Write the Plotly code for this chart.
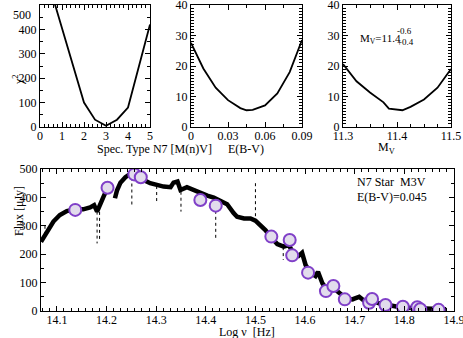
import plotly.graph_objects as go

# chi^2 vs spectral type
spt = [0, 1, 2, 2.5, 3, 3.5, 4, 5]
chi_spt = [710, 405, 100, 30, 5, 30, 80, 420]

# chi^2 vs E(B-V)
ebv = [0, 0.01, 0.02, 0.03, 0.04, 0.045, 0.05, 0.06, 0.07, 0.08, 0.09]
chi_ebv = [27.6, 19.2, 12.9, 8.8, 6.2, 5.5, 5.6, 7.1, 11, 18, 28.5]

# chi^2 vs M_V
mv = [11.3, 11.325, 11.35, 11.375, 11.385, 11.41, 11.425, 11.45, 11.475, 11.5]
chi_mv = [20.6, 15, 11.3, 8.1, 6, 5.5, 6.6, 9, 12.9, 19]

# spectrum (log nu, flux in uJy), None marks the gap
spec_x = [14.068, 14.080, 14.093, 14.106, 14.120, 14.137, 14.153, 14.167, 14.175, 14.181,
          14.187, 14.194, 14.201, 14.207, None,
          14.217, 14.221, 14.228, 14.238, 14.248, 14.258, 14.265, 14.275, 14.288, 14.301,
          14.315, 14.329, 14.335, 14.343, 14.349, 14.362, 14.376, 14.389, 14.403, 14.416,
          14.430, 14.443, 14.456, 14.463, 14.477, 14.490, 14.500, 14.510, 14.520, 14.532,
          14.544, 14.557, 14.567, 14.577, 14.587, 14.594, 14.601, 14.611, 14.621, 14.626,
          14.635, 14.645, 14.655, 14.668, 14.682, 14.695, 14.709, 14.719, 14.736, 14.749,
          14.766, 14.786, 14.813, 14.840, 14.867, 14.884]
spec_y = [244, 279, 315, 338, 352, 358, 358, 365, 373, 350,
          379, 403, 429, 444, None,
          397, 424, 452, 471, 483, 485, 478, 461, 450, 444,
          438, 436, 452, 456, 426, 436, 426, 414, 406, 399,
          389, 376, 345, 332, 326, 326, 318, 303, 285, 259,
          236, 227, 232, 203, 194, 205, 162, 135, 123, 138,
          97, 74, 84, 65, 45, 41, 50, 36, 36, 27,
          21, 15, 11, 8, 6, 6]

# absorption dips / spikes in the spectrum
dip_x = [14.076, 14.181, 14.186, 14.251, 14.301, 14.350, 14.420, 14.500, 14.556, 14.698]
dip_top = [300, 350, 370, 470, 440, 420, 395, 450, 225, 45]
dip_bot = [262, 238, 250, 375, 385, 350, 256, 330, 180, 28]

# photometry
phot_x = [14.137, 14.202, 14.256, 14.269, 14.389, 14.420, 14.532, 14.569, 14.574, 14.606,
          14.642, 14.657, 14.680, 14.729, 14.735, 14.762, 14.797, 14.826, 14.832, 14.869]
phot_y = [356, 434, 481, 471, 391, 371, 262, 250, 196, 135,
          70, 88, 41, 29, 42, 21, 15, 13, 6, 4]

W, H = 463, 338
FONT = "Liberation Serif"


def px(x):
    return x / W


def py(y):
    return 1 - y / H


dipx, dipy = [], []
for x, t, b in zip(dip_x, dip_top, dip_bot):
    dipx += [x, x, None]
    dipy += [t, b, None]

fig = go.Figure()
fig.add_trace(go.Scatter(x=spt, y=chi_spt, mode="lines", line=dict(color="black", width=1.8),
                         xaxis="x", yaxis="y"))
fig.add_trace(go.Scatter(x=ebv, y=chi_ebv, mode="lines", line=dict(color="black", width=1.8),
                         xaxis="x2", yaxis="y2"))
fig.add_trace(go.Scatter(x=mv, y=chi_mv, mode="lines", line=dict(color="black", width=1.8),
                         xaxis="x3", yaxis="y3"))
fig.add_trace(go.Scatter(x=dipx, y=dipy, mode="lines", line=dict(color="black", width=1, dash="dot"),
                         xaxis="x4", yaxis="y4", connectgaps=False))
fig.add_trace(go.Scatter(x=spec_x, y=spec_y, mode="lines", line=dict(color="black", width=4.5),
                         xaxis="x4", yaxis="y4", connectgaps=False))
fig.add_trace(go.Scatter(x=phot_x, y=phot_y, mode="markers",
                         marker=dict(size=12, color="#e2dcec", line=dict(color="#8040c8", width=2)),
                         xaxis="x4", yaxis="y4"))

tickfont = dict(family=FONT, size=12, color="black")


def ax(domain, rng, dtick, mdtick, anchor, **kw):
    d = dict(domain=domain, range=rng, dtick=dtick, tick0=0,
             anchor=anchor, showline=True, linecolor="black", linewidth=1.3, mirror="allticks",
             ticks="inside", ticklen=5, tickwidth=1, tickcolor="black", showgrid=False,
             zeroline=False, tickfont=tickfont, automargin=False, ticklabeloverflow="allow",
             minor=dict(dtick=mdtick, ticks="inside", ticklen=3, tickcolor="black", showgrid=False))
    d.update(kw)
    return d


fig.update_layout(
    width=W, height=H, margin=dict(l=0, r=0, t=0, b=0, autoexpand=False),
    paper_bgcolor="white", plot_bgcolor="white", showlegend=False,
    xaxis=ax([px(40), px(150)], [0, 5], 1, 0.2, "y", ticklabelstandoff=-3),
    yaxis=ax([py(127), py(5)], [0, 500], 100, 50, "x",
             tickvals=[0, 100, 200, 300, 400], ticktext=["0", "100", "200", "300", "400"]),
    xaxis2=ax([px(191), px(302)], [0, 0.09], 0.03, 0.015, "y2", ticklabelstandoff=-3,
              tickvals=[0, 0.03, 0.06, 0.09], ticktext=["0", "0.03", "0.06", "0.09"]),
    yaxis2=ax([py(127), py(5)], [0, 40], 10, 1, "x2"),
    xaxis3=ax([px(343), px(451)], [11.3, 11.5], 0.1, 0.025, "y3", tick0=11.3, ticklabelstandoff=-3),
    yaxis3=ax([py(127), py(5)], [0, 40], 10, 1, "x3"),
    xaxis4=ax([px(41), px(454)], [14.068, 14.9], 0.1, 0.1 / 7, "y4", tick0=14.1, ticklabelstandoff=-3),
    yaxis4=ax([py(311), py(169)], [0, 500], 100, 50, "x4"),
)

ann = [
    dict(text="500", x=px(11), y=py(6)),
    dict(text="Spec. Type N7 [M(n)V]", x=px(95), y=py(149)),
    dict(text="E(B-V)", x=px(246), y=py(149)),
    dict(text="M<sub>V</sub>", x=px(397), y=py(148)),
    dict(text="χ<sup>2</sup>", x=px(9), y=py(72), textangle=-90),
    dict(text="Flux [μJy]", x=px(10), y=py(238), textangle=-90),
    dict(text="Log ν  [Hz]", x=px(247), y=py(323), yanchor="top"),
    dict(text="N7 Star  M3V", x=px(355), y=py(182), xanchor="left"),
    dict(text="E(B-V)=0.045", x=px(355), y=py(197), xanchor="left"),
    dict(text="M<sub>V</sub>=11.4", x=px(358), y=py(30), xanchor="left", size=11),
    dict(text="-0.6", x=px(395), y=py(24), xanchor="left", size=9),
    dict(text="+0.4", x=px(395), y=py(35), xanchor="left", size=9),
]
for a in ann:
    size = a.pop("size", 12)
    fig.add_annotation(xref="paper", yref="paper", showarrow=False,
                       font=dict(family=FONT, size=size, color="black"), **a)

fig.write_html("out.html", config={"displayModeBar": False},
               post_script="document.body.style.margin='0';")
